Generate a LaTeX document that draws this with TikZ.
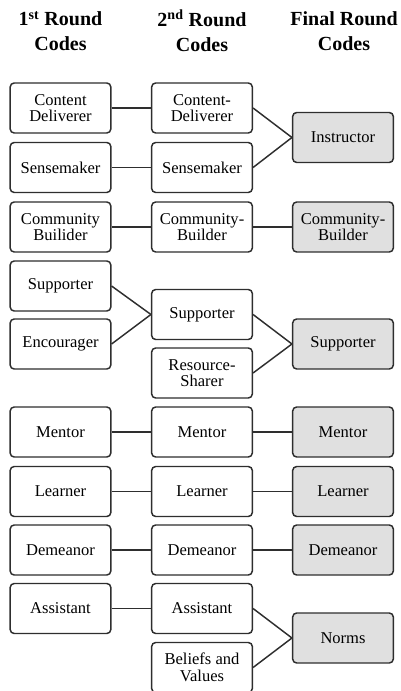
\documentclass[tikz,border=0pt]{standalone}
\usepackage{fontspec}
\setmainfont{Liberation Serif}
\definecolor{edge}{HTML}{2E2E2E}
\definecolor{finalfill}{HTML}{E0E0E0}
\begin{document}
\begin{tikzpicture}[x=0.75pt,y=-0.75pt,
  code/.style={draw=edge, line width=1.1pt, rounded corners=3pt, fill=white,
    minimum width=75.5pt, minimum height=37.5pt, inner sep=0pt,
    align=center, font=\fontsize{12.4}{12.4}\selectfont},
  final/.style={code, fill=finalfill},
  head/.style={align=center, font=\fontsize{15}{18.5}\selectfont\bfseries},
  link/.style={draw=edge, line width=1.1pt}]
\useasboundingbox (0,0) rectangle (400,691);
\clip (0,0) rectangle (400,691);

% column headings
\node[head] (h1) at (60.5,31) {1\textsuperscript{st} Round\\Codes};
\node[head] (h2) at (202,31) {2\textsuperscript{nd} Round\\Codes};
\node[head] (h3) at (344,31) {Final Round\\Codes};

% first round codes
\node[code] (a1) at (60.5,108) {Content\\Deliverer};
\node[code] (a2) at (60.5,167.5) {Sensemaker};
\node[code] (a3) at (60.5,227) {Community\\Builider};
\node[code] (a4) at (60.5,286) {Supporter};
\node[code] (a5) at (60.5,344) {Encourager};
\node[code] (a6) at (60.5,432) {Mentor};
\node[code] (a7) at (60.5,491.5) {Learner};
\node[code] (a8) at (60.5,550) {Demeanor};
\node[code] (a9) at (60.5,608.5) {Assistant};

% second round codes
\node[code] (b1) at (202,108) {Content-\\Deliverer};
\node[code] (b2) at (202,167.5) {Sensemaker};
\node[code] (b3) at (202,227) {Community-\\Builder};
\node[code] (b4) at (202,314.5) {Supporter};
\node[code] (b5) at (202,373) {Resource-\\Sharer};
\node[code] (b6) at (202,432) {Mentor};
\node[code] (b7) at (202,491.5) {Learner};
\node[code] (b8) at (202,550) {Demeanor};
\node[code] (b9) at (202,608.5) {Assistant};
\node[code] (b10) at (202,667.5) {Beliefs and\\Values};

% final round codes
\node[final] (c1) at (343,137.5) {Instructor};
\node[final] (c2) at (343,227) {Community-\\Builder};
\node[final] (c3) at (343,344) {Supporter};
\node[final] (c4) at (343,432) {Mentor};
\node[final] (c5) at (343,491.5) {Learner};
\node[final] (c6) at (343,550) {Demeanor};
\node[final] (c7) at (343,638) {Norms};

% first to second round
\draw[link] (a1.east) -- (b1.west);
\draw[link] (a2.east) -- (b2.west);
\draw[link] (a3.east) -- (b3.west);
\draw[link] (a4.east) -- (b4.west);
\draw[link] (a5.east) -- (b4.west);
\draw[link] (a6.east) -- (b6.west);
\draw[link] (a7.east) -- (b7.west);
\draw[link] (a8.east) -- (b8.west);
\draw[link] (a9.east) -- (b9.west);

% second to final round
\draw[link] (b1.east) -- (c1.west);
\draw[link] (b2.east) -- (c1.west);
\draw[link] (b3.east) -- (c2.west);
\draw[link] (b4.east) -- (c3.west);
\draw[link] (b5.east) -- (c3.west);
\draw[link] (b6.east) -- (c4.west);
\draw[link] (b7.east) -- (c5.west);
\draw[link] (b8.east) -- (c6.west);
\draw[link] (b9.east) -- (c7.west);
\draw[link] (b10.east) -- (c7.west);
\end{tikzpicture}
\end{document}
